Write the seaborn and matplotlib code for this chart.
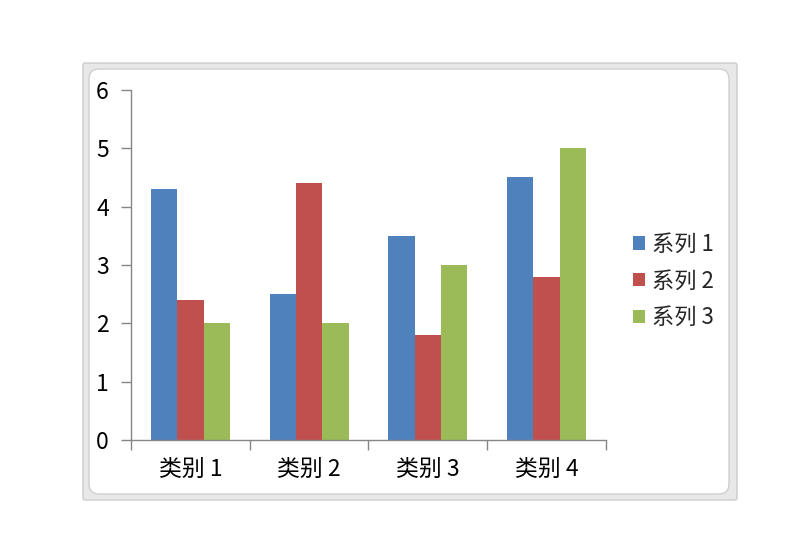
import matplotlib
matplotlib.use("Agg")
import matplotlib.pyplot as plt
import seaborn as sns
import pandas as pd
from matplotlib.patches import FancyBboxPatch
from matplotlib.ticker import FixedLocator
from matplotlib.transforms import Affine2D

categories = ["类别 1", "类别 2", "类别 3", "类别 4"]
series_names = ["系列 1", "系列 2", "系列 3"]
series1 = [4.3, 2.5, 3.5, 4.5]
series2 = [2.4, 4.4, 1.8, 2.8]
series3 = [2.0, 2.0, 3.0, 5.0]
colors = ["#4F81BD", "#C0504D", "#9BBB59"]

rows = []
for name, vals in zip(series_names, [series1, series2, series3]):
    for c, v in zip(categories, vals):
        rows.append({"category": c, "series": name, "value": v})
df = pd.DataFrame(rows)

sns.set_theme(style="white")
plt.rcParams['font.family'] = ['Noto Sans CJK SC', 'DejaVu Sans']

W, H = 794, 557
fig = plt.figure(figsize=(W / 100, H / 100), dpi=100)
fig.patch.set_facecolor("white")

def fx(x): return x / W
def fy(y): return 1 - y / H

pix = Affine2D().scale(1, -1).translate(0, H)
outer = FancyBboxPatch((85, 65), 735 - 85, 498 - 65, boxstyle="round,pad=2", transform=pix,
                       facecolor="#e8e8e8", edgecolor="#cccccc", linewidth=1, zorder=-2)
fig.patches.append(outer)
r = 10
inner = FancyBboxPatch((89 + r, 69 + r), (729 - 89) - 2 * r, (494 - 69) - 2 * r,
                       boxstyle=f"round,pad={r}", transform=pix,
                       facecolor="white", edgecolor="#cfcfcf", linewidth=1, zorder=-1)
fig.patches.append(inner)

ax = fig.add_axes([fx(131), fy(440), fx(606) - fx(131), fy(90) - fy(440)])
ax.set_zorder(1)
ax.set_facecolor("none")
sns.barplot(data=df, x="category", y="value", hue="series", palette=colors,
            width=0.667, gap=0, saturation=1, ax=ax, legend=True)
for p in ax.patches:
    p.set_edgecolor("none")
    p.set_linewidth(0)

ax.set_xlim(-0.5, 3.5)
ax.set_ylim(0, 6)
ax.set_yticks([0, 1, 2, 3, 4, 5, 6])
ax.set_xlabel("")
ax.set_ylabel("")
for s in ["top", "right"]:
    ax.spines[s].set_visible(False)
for s in ["left", "bottom"]:
    ax.spines[s].set_color("#868686")
    ax.spines[s].set_linewidth(1)

ax.tick_params(axis="y", which="major", direction="out", length=7, width=1,
               color="#868686", labelsize=16.5, pad=9, labelcolor="black", left=True)
ax.tick_params(axis="x", which="major", length=0, labelsize=16.5, pad=13, labelcolor="black")
ax.xaxis.set_minor_locator(FixedLocator([-0.5, 0.5, 1.5, 2.5, 3.5]))
ax.tick_params(axis="x", which="minor", direction="out", length=7, width=1,
               color="#868686", bottom=True)

leg = ax.legend(loc="center left", bbox_to_anchor=(fx(622), fy(281)),
                bbox_transform=fig.transFigure, frameon=False, fontsize=16,
                handlelength=0.55, handleheight=0.55, handletextpad=0.3,
                labelspacing=0.62, borderpad=0)
for h in leg.legend_handles:
    h.set_edgecolor("none")

fig.savefig("out.png", dpi=100, facecolor="white")
